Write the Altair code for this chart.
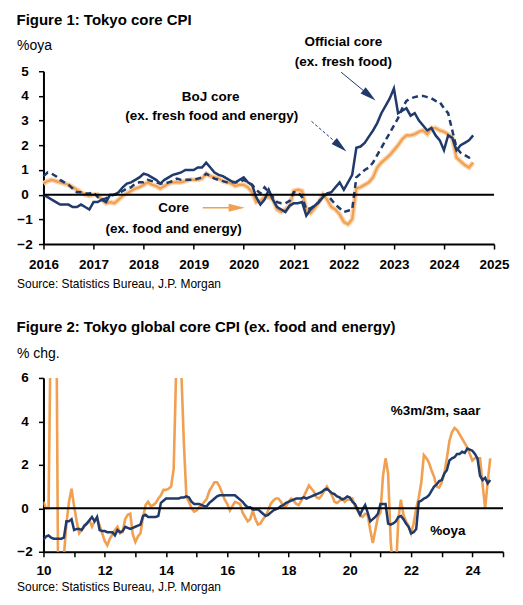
import altair as alt
import pandas as pd

FONT = "Liberation Sans, Arial, sans-serif"
NAVY = "#1F3A6B"
ORANGE = "#F0A050"
ORANGE_GLOW = "#F9D5B0"

# ---------------- Figure 1: monthly Jan-2016 .. Aug-2024, %oya ----------------
official_core = [
    0.0, -0.1, -0.2, -0.3, -0.4, -0.4, -0.4, -0.5, -0.5, -0.4, -0.5, -0.6,
    -0.3, -0.3, -0.2, -0.3, 0.0, 0.0, 0.1, 0.3, 0.45, 0.5, 0.6, 0.7,
    0.85, 0.8, 0.7, 0.6, 0.45, 0.6, 0.7, 0.8, 0.85, 0.9, 1.0, 1.0,
    1.0, 1.1, 1.1, 1.3, 1.1, 0.9, 0.8, 0.75, 0.65, 0.55, 0.5, 0.6,
    0.7, 0.5, 0.4, -0.1, -0.4, -0.2, 0.2, -0.2, -0.5, -0.6, -0.7, -0.45,
    -0.35, -0.35, -0.3, -0.85, -0.6, -0.45, -0.3, -0.1, 0.05, 0.1, 0.3, 0.5,
    0.2, 0.5, 0.8, 1.9, 1.95, 2.1, 2.35, 2.6, 2.9, 3.3, 3.6, 3.9,
    4.3, 3.3, 3.4, 3.5, 3.2, 3.3, 3.0, 2.8, 2.6, 2.7, 2.4, 2.2,
    1.8, 2.4, 2.3, 1.8, 2.0, 2.1, 2.2, 2.4,
]
boj_core = [
    0.75, 0.9, 0.85, 0.75, 0.6, 0.5, 0.4, 0.25, 0.1, 0.1, 0.05, 0.05,
    0.1, -0.1, -0.2, -0.15, -0.05, 0.0, 0.05, 0.15, 0.25, 0.3, 0.45, 0.5,
    0.5, 0.6, 0.55, 0.5, 0.45, 0.45, 0.5, 0.55, 0.65, 0.6, 0.6, 0.6,
    0.6, 0.65, 0.7, 0.85, 0.75, 0.65, 0.6, 0.55, 0.5, 0.5, 0.5, 0.5,
    0.6, 0.5, 0.4, 0.2, 0.05, 0.3, 0.1, -0.1, -0.3, -0.35, -0.35, -0.25,
    0.1, 0.1, -0.1, -0.6, -0.55, -0.45, -0.3, 0.0, 0.0, -0.2, -0.4, -0.55,
    -0.7, -0.65, -0.6, 0.7, 0.85, 1.0, 1.1, 1.3, 1.6, 1.9, 2.2, 2.5,
    2.8, 3.1, 3.5, 3.8, 3.9, 3.95, 4.0, 4.0, 3.95, 3.9, 3.8, 3.75,
    3.5, 3.3, 2.6, 1.9, 1.7, 1.6, 1.5, 1.6,
]
core_ex_food_energy = [
    0.45, 0.55, 0.6, 0.55, 0.5, 0.45, 0.4, 0.3, 0.2, 0.1, 0.0, -0.05,
    0.0, 0.0, -0.2, -0.35, -0.3, -0.35, -0.2, -0.05, 0.05, 0.15, 0.25, 0.3,
    0.4, 0.5, 0.4, 0.35, 0.25, 0.35, 0.45, 0.5, 0.5, 0.5, 0.55, 0.6,
    0.6, 0.6, 0.65, 0.85, 0.75, 0.7, 0.65, 0.55, 0.5, 0.45, 0.35, 0.4,
    0.4, 0.3, 0.1, -0.3, -0.25, -0.1, -0.1, -0.2, -0.6, -0.7, -0.6, -0.45,
    0.15, 0.2, 0.15, -0.6, -0.75, -0.55, -0.3, 0.0, -0.2, -0.5, -0.6, -0.8,
    -1.1, -1.2, -1.0, 0.25, 0.3, 0.4, 0.5, 0.7, 1.1, 1.3, 1.45, 1.6,
    1.8, 2.0, 2.25, 2.4, 2.4, 2.45, 2.55, 2.6, 2.45, 2.7, 2.7, 2.6,
    2.55, 2.45, 2.3, 1.5, 1.35, 1.2, 1.1, 1.3,
]
fig1_start = 2016
fig1_xticks = list(range(2016, 2026))
fig1_yticks = [-2, -1, 0, 1, 2, 3, 4, 5]

# annotation texts (data coordinates)
fig1_text = ["Official core", "(ex. fresh food)", "BoJ core", "(ex. fresh food and energy)",
             "Core", "(ex. food and energy)"]
fig1_text_t = [2021.99, 2021.99, 2019.34, 2019.36, 2018.60, 2018.60]
fig1_text_v = [6.17, 5.36, 3.97, 3.17, -0.55, -1.40]

# arrows: start (t, v) -> head (t2, v2), head angle in degrees
arrow_name = ["official", "boj", "core"]
arrow_t = [2021.946, 2021.354, 2019.18]
arrow_v = [4.96, 2.97, -0.53]
arrow_t2 = [2022.51, 2021.93, 2019.86]
arrow_v2 = [4.02, 1.96, -0.53]
arrow_angle = [39.5, 40.8, 0]

# ---------------- Figure 2: monthly Jan-2010 .. Aug-2024 ----------------
global_core_oya = [
    -1.45, -1.3, -1.25, -1.35, -1.4, -1.4, -1.4, -1.4, -1.35, -0.6, -0.6, -0.5,
    -1.0, -0.95, -0.95, -1.0, -0.8, -0.7, -0.55, -0.4, -0.6, -0.4, -1.0, -1.05,
    -1.05, -1.1, -1.1, -1.1, -1.25, -1.0, -1.1, -1.05, -0.85, -0.9, -0.95, -0.9,
    -0.85, -0.8, -0.75, -0.35, -0.3, -0.4, -0.4, -0.4, -0.4, -0.35, 0.25, 0.35,
    0.45, 0.45, 0.45, 0.45, 0.45, 0.45, 0.5, 0.5, 0.55, 0.5, 0.3, 0.2,
    0.2, 0.2, 0.15, 0.1, 0.1, 0.25, 0.35, 0.45, 0.55, 0.6, 0.6, 0.6,
    0.6, 0.6, 0.6, 0.6, 0.5, 0.4, 0.3, 0.15, 0.05, 0.05, -0.05, -0.05,
    -0.05, -0.15, -0.25, -0.35, -0.3, -0.2, -0.1, -0.05, 0.0, 0.1, 0.15, 0.25,
    0.3, 0.35, 0.4, 0.45, 0.45, 0.45, 0.5, 0.45, 0.5, 0.55, 0.6, 0.65,
    0.7, 0.75, 0.85, 0.9, 0.8, 0.7, 0.65, 0.55, 0.5, 0.4, 0.45, 0.55,
    0.5, 0.3, 0.2, -0.05, -0.3, -0.05, 0.15, -0.2, -0.6, -0.5, -0.4, -0.25,
    0.2, 0.2, 0.2, -0.7, -0.75, -0.7, -0.6, -0.4, -0.35, -0.5, -0.7, -0.85,
    -1.15, -1.1, -0.95, 0.3, 0.35, 0.45, 0.5, 0.6, 0.8, 1.0, 1.1, 1.25,
    1.3, 1.6, 1.75, 2.2, 2.3, 2.35, 2.5, 2.5, 2.6, 2.55, 2.75, 2.7,
    2.65, 2.5, 2.3, 1.5, 1.3, 1.4, 1.15, 1.3,
]
global_core_3m3m_saar = [
    0.3, 0.0, 0.0, 10.0, 10.0, 10.0, -8.0, -4.0, -2.2, -0.7, 0.3, 0.9,
    0.1, -0.6, -1.15, -1.0, -0.85, -0.7, -0.55, -0.85, -0.6, -0.45, -0.8, -1.15,
    -1.5, -1.7, -1.4, -1.2, -1.0, -0.85, -1.15, -1.1, -0.5, -0.3, -0.25, -1.2,
    -1.55, -1.3, -1.15, -0.4, 0.15, 0.3, 0.1, 0.15, 0.25, 0.45, 0.6, 0.85,
    0.85, 0.9, 1.0, 1.8, 6.5, 6.5, 6.3, 3.0, 0.5, 0.3, 0.0, -0.15,
    -0.1, 0.05, 0.15, 0.3, 0.45, 0.8, 1.0, 1.2, 1.2, 1.0, 0.7, 0.4,
    0.2, -0.1, 0.1, 0.3, 0.25, 0.2, -0.2, -0.4, -0.6, -0.5, -0.1, -0.5,
    -0.75, -0.7, -0.5, -0.35, -0.1, 0.2, 0.35, 0.45, 0.45, 0.3, 0.1, 0.1,
    0.3, 0.45, 0.35, 0.2, 0.15, 0.35, 0.55, 0.8, 1.05, 0.9, 0.75, 0.5,
    0.45, 0.6, 0.8, 1.0, 0.8, 0.6, 0.3, 0.25, 0.35, 0.45, 0.3, 0.4,
    0.4, 0.45, 0.1, -0.1, -0.3, -0.4, -0.25, -0.3, -1.0, -1.6, -1.0, -0.4,
    -0.2, 1.5, 2.3, 1.6, -1.5, -3.0, -3.0, -0.5, 0.4, -0.3, -0.6, -0.8,
    -1.15, -0.7, 0.0, 0.5, 1.2, 2.45, 2.3, 2.1, 1.75, 1.45, 1.0, 0.95,
    1.2, 1.6, 2.3, 3.1, 3.5, 3.7, 3.6, 3.4, 3.2, 3.0, 2.8, 2.5,
    2.2, 2.3, 2.3, 2.3, 1.1, 0.0, 1.2, 2.3,
]
fig2_start = 2010
fig2_xticks = list(range(2010, 2026))
fig2_yticks = [-2, 0, 2, 4, 6]

fig2_text = ["%3m/3m, saar", "%oya"]
fig2_text_t = [2022.80, 2023.20]
fig2_text_v = [4.47, -1.04]

SOURCE = "Source: Statistics Bureau, J.P. Morgan"


def monthly(start, values):
    return pd.DataFrame({"t": [start + i / 12 for i in range(len(values))], "v": values})


def axis_common():
    return dict(
        grid=False, domainColor="black", domainWidth=2, tickColor="black", tickWidth=1.5,
        tickSize=5, labelFont=FONT, labelFontSize=13.5, labelFontWeight="bold",
        labelColor="black", labelOverlap=False, labelFlush=False,
        titleFont=FONT, titleFontWeight="normal", titleColor="black",
        titleAngle=0, titleAlign="left", titleBaseline="alphabetic",
    )


# ---------------- Figure 1 ----------------
x1 = alt.X("t:Q", scale=alt.Scale(domain=[2016, 2025], nice=False, zero=False),
           axis=alt.Axis(values=fig1_xticks, format="d", labelPadding=8.5,
                         title=SOURCE, titleX=-27, titleY=43, titleFontSize=12,
                         **axis_common()))
y1 = alt.Y("v:Q", scale=alt.Scale(domain=[-2, 5], nice=False, zero=False),
           axis=alt.Axis(values=fig1_yticks, format="d", labelAlign="center", labelPadding=14,
                         title="%oya", titleX=-27, titleY=-22, titleFontSize=14,
                         **axis_common()))

off_df = monthly(fig1_start, official_core)
boj_df = monthly(fig1_start, boj_core)
core_df = monthly(fig1_start, core_ex_food_energy)

glow = alt.Chart(core_df).mark_line(color=ORANGE_GLOW, strokeWidth=5).encode(x=x1, y=y1)
core_line = alt.Chart(core_df).mark_line(color=ORANGE, strokeWidth=2.2).encode(x=x1, y=y1)
boj_line = alt.Chart(boj_df).mark_line(color=NAVY, strokeWidth=2.5, strokeDash=[6, 4]).encode(x=x1, y=y1)
off_line = alt.Chart(off_df).mark_line(color=NAVY, strokeWidth=2.5).encode(x=x1, y=y1)
zero1 = alt.Chart(pd.DataFrame({"v": [0]})).mark_rule(color="black", strokeWidth=2).encode(y=y1)

txt1_df = pd.DataFrame({"t": fig1_text_t, "v": fig1_text_v, "label": fig1_text})
txt1 = alt.Chart(txt1_df).mark_text(font=FONT, fontSize=13.5, fontWeight="bold", color="black",
                                    align="center", baseline="middle").encode(x=x1, y=y1, text="label:N")

arr_df = pd.DataFrame({"name": arrow_name, "t": arrow_t, "v": arrow_v,
                       "t2": arrow_t2, "v2": arrow_v2, "ang": arrow_angle})
arr_off = alt.Chart(arr_df[arr_df.name == "official"]).mark_rule(color=NAVY, strokeWidth=1).encode(
    x=x1, y=y1, x2="t2:Q", y2="v2:Q")
arr_boj = alt.Chart(arr_df[arr_df.name == "boj"]).mark_rule(color=NAVY, strokeWidth=1, strokeDash=[3, 2]).encode(
    x=x1, y=y1, x2="t2:Q", y2="v2:Q")
arr_core = alt.Chart(arr_df[arr_df.name == "core"]).mark_rule(color=ORANGE, strokeWidth=1.5).encode(
    x=x1, y=y1, x2="t2:Q", y2="v2:Q")

HEAD = "M1,0L-1,-0.5L-1,0.5Z"
heads_df = pd.DataFrame({"t": arrow_t2, "v": arrow_v2, "ang": arrow_angle, "name": arrow_name})
heads_navy = alt.Chart(heads_df[heads_df.name != "core"]).mark_point(
    shape=HEAD, filled=True, color=NAVY, opacity=1, size=260, strokeWidth=0).encode(
    x=x1, y=y1, angle=alt.Angle("ang:Q", scale=None))
heads_or = alt.Chart(heads_df[heads_df.name == "core"]).mark_point(
    shape=HEAD, filled=True, color=ORANGE, opacity=1, size=260, strokeWidth=0).encode(
    x=x1, y=y1, angle=alt.Angle("ang:Q", scale=None))

fig1 = alt.layer(glow, core_line, boj_line, off_line, zero1, txt1,
                 arr_off, arr_boj, arr_core, heads_navy, heads_or).properties(
    width=451, height=173,
    title=alt.TitleParams(text="Figure 1: Tokyo core CPI", anchor="start", frame="group", dx=-27,
                          offset=-5, font=FONT, fontSize=15, fontWeight="bold", color="black",
                          baseline="alphabetic"))

# ---------------- Figure 2 ----------------
x2 = alt.X("t:Q", scale=alt.Scale(domain=[2010, 2025], nice=False, zero=False),
           axis=alt.Axis(values=fig2_xticks, labelPadding=7,
                         labelExpr="datum.value % 2 == 0 && datum.value < 2025 ? format(datum.value - 2000, 'd') : ''",
                         title=SOURCE, titleX=-27, titleY=39, titleFontSize=12,
                         **axis_common()))
y2 = alt.Y("v:Q", scale=alt.Scale(domain=[-2, 6], nice=False, zero=False),
           axis=alt.Axis(values=fig2_yticks, format="d", labelAlign="center", labelPadding=14,
                         title="% chg.", titleX=-27, titleY=-20, titleFontSize=14,
                         **axis_common()))

oya_df = monthly(fig2_start, global_core_oya)
saar_df = monthly(fig2_start, global_core_3m3m_saar)

saar_line = alt.Chart(saar_df).mark_line(color=ORANGE, strokeWidth=2.6, clip=True).encode(x=x2, y=y2)
oya_line = alt.Chart(oya_df).mark_line(color=NAVY, strokeWidth=2.5, clip=True).encode(x=x2, y=y2)
zero2 = alt.Chart(pd.DataFrame({"v": [0]})).mark_rule(color="black", strokeWidth=2).encode(y=y2)
txt2_df = pd.DataFrame({"t": fig2_text_t, "v": fig2_text_v, "label": fig2_text})
txt2 = alt.Chart(txt2_df).mark_text(font=FONT, fontSize=13.5, fontWeight="bold", color="black",
                                    align="center", baseline="middle").encode(x=x2, y=y2, text="label:N")

fig2 = alt.layer(saar_line, oya_line, zero2, txt2).properties(
    width=460, height=174,
    title=alt.TitleParams(text="Figure 2: Tokyo global core CPI (ex. food and energy)", anchor="start",
                          frame="group", dx=-27, offset=-0.5, font=FONT, fontSize=15,
                          fontWeight="bold", color="black", baseline="alphabetic"))

chart = alt.vconcat(fig1, fig2, spacing=31).properties(
    padding={"left": 8.5, "top": 5, "right": 5, "bottom": 5},
    background="white",
).configure_view(stroke=None)

chart.save("out.html", embed_options={"renderer": "svg", "actions": False})
